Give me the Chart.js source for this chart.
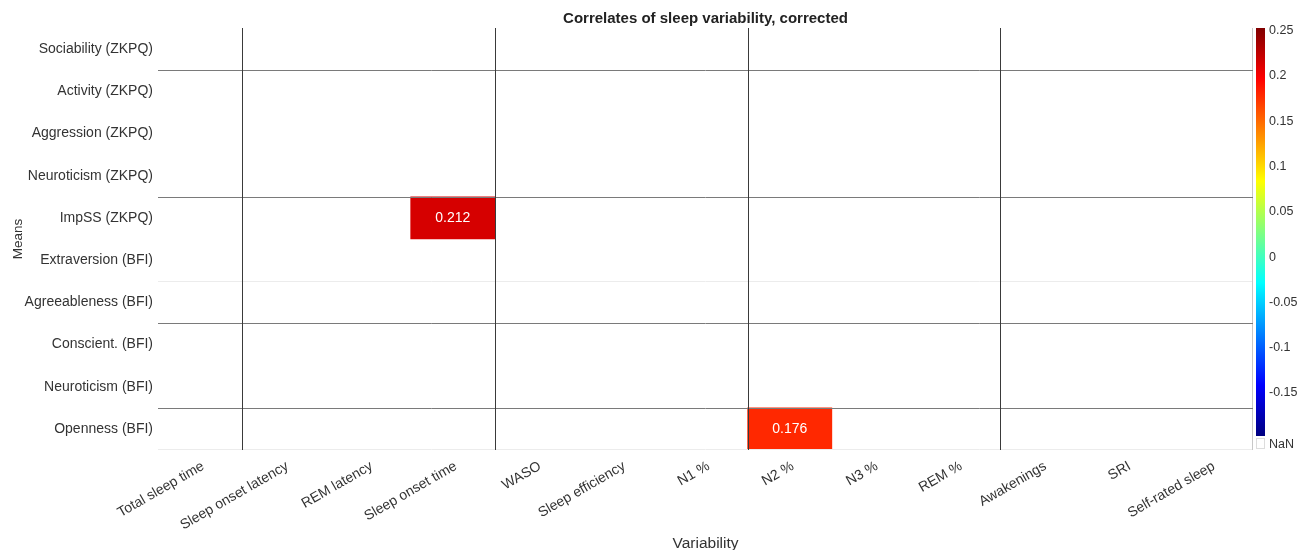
<!DOCTYPE html>
<html>
<head>
<meta charset="utf-8">
<script src="https://cdn.jsdelivr.net/npm/chart.js@4.4.1/dist/chart.umd.min.js"></script>
<style>
  html, body { margin: 0; padding: 0; background: #fff; }
  #wrap { width: 1311px; height: 550px; }
</style>
</head>
<body>
<div id="wrap"><canvas id="heat"></canvas></div>
<script>
    // categories
    const colLabels = ['Total sleep time', 'Sleep onset latency', 'REM latency', 'Sleep onset time',
        'WASO', 'Sleep efficiency', 'N1 %', 'N2 %', 'N3 %', 'REM %', 'Awakenings', 'SRI', 'Self-rated sleep'];
    const rowLabels = ['Sociability (ZKPQ)', 'Activity (ZKPQ)', 'Aggression (ZKPQ)', 'Neuroticism (ZKPQ)',
        'ImpSS (ZKPQ)', 'Extraversion (BFI)', 'Agreeableness (BFI)', 'Conscient. (BFI)',
        'Neuroticism (BFI)', 'Openness (BFI)'];

    // significant corrected correlations (null = NaN / not shown)
    const N = null;
    const corrValues = [
        [N, N, N, N, N, N, N, N, N, N, N, N, N],
        [N, N, N, N, N, N, N, N, N, N, N, N, N],
        [N, N, N, N, N, N, N, N, N, N, N, N, N],
        [N, N, N, N, N, N, N, N, N, N, N, N, N],
        [N, N, N, 0.212, N, N, N, N, N, N, N, N, N],
        [N, N, N, N, N, N, N, N, N, N, N, N, N],
        [N, N, N, N, N, N, N, N, N, N, N, N, N],
        [N, N, N, N, N, N, N, N, N, N, N, N, N],
        [N, N, N, N, N, N, N, N, N, N, N, N, N],
        [N, N, N, N, N, N, N, 0.176, N, N, N, N, N]
    ];

    // colour bar
    const cbMin = -0.2;
    const cbMax = 0.25;
    const cbTicks = [0.25, 0.2, 0.15, 0.1, 0.05, 0, -0.05, -0.1, -0.15];

    // group separators (after these indices)
    const colBreaks = [1, 4, 7, 10];
    const rowBreaks = [1, 4, 7, 9];

    function jet(v) {
        let t = (v - cbMin) / (cbMax - cbMin);
        t = Math.max(0, Math.min(1, t));
        const c = x => Math.round(255 * Math.max(0, Math.min(1, x)));
        const r = c(1.5 - Math.abs(4 * t - 3));
        const g = c(1.5 - Math.abs(4 * t - 2));
        const b = c(1.5 - Math.abs(4 * t - 1));
        return `rgb(${r},${g},${b})`;
    }

    const FONT = '"Liberation Sans", Arial, sans-serif';

    const datasets = rowLabels.map((name, r) => ({
        label: name,
        data: corrValues[r].map(v => v == null ? null : [r - 0.5, r + 0.5]),
        backgroundColor: corrValues[r].map(v => v == null ? 'rgba(0,0,0,0)' : jet(v)),
        borderWidth: 0,
        grouped: false,
        barPercentage: 1,
        categoryPercentage: 1,
        yAxisID: 'y'
    }));

    const overlay = {
        id: 'overlay',
        afterDatasetsDraw(chart) {
            const ctx = chart.ctx;
            const xs = chart.scales.x;
            const ys = chart.scales.y;
            const area = chart.chartArea;
            ctx.save();
            // cell values
            ctx.fillStyle = '#ffffff';
            ctx.font = '14px ' + FONT;
            ctx.textAlign = 'center';
            ctx.textBaseline = 'middle';
            chart.data.datasets.forEach((ds, r) => {
                const meta = chart.getDatasetMeta(r);
                meta.data.forEach((bar, c) => {
                    const v = corrValues[r][c];
                    if (v == null) return;
                    ctx.fillText(v.toFixed(3), bar.x, (bar.y + bar.base) / 2);
                });
            });
            // faint frame lines
            ctx.lineWidth = 1;
            ctx.strokeStyle = '#ececec';
            ctx.beginPath();
            ctx.moveTo(area.left, Math.round(area.bottom) - 0.5);
            ctx.lineTo(area.right, Math.round(area.bottom) - 0.5);
            const yf = Math.round(ys.getPixelForValue(5.5)) + 0.5;
            ctx.moveTo(area.left, yf);
            ctx.lineTo(area.right, yf);
            ctx.stroke();
            ctx.strokeStyle = '#c8c8c8';
            ctx.beginPath();
            ctx.moveTo(Math.round(area.right) - 0.5, area.top);
            ctx.lineTo(Math.round(area.right) - 0.5, area.bottom);
            ctx.stroke();
            // horizontal group lines
            ctx.strokeStyle = '#7a7a7a';
            ctx.beginPath();
            rowBreaks.forEach(b => {
                const y = Math.round(ys.getPixelForValue(b - 0.5)) + 0.5;
                ctx.moveTo(area.left, y);
                ctx.lineTo(area.right, y);
            });
            ctx.stroke();
            // vertical group lines
            ctx.strokeStyle = '#3a3a3a';
            ctx.beginPath();
            colBreaks.forEach(b => {
                const x = Math.round((xs.getPixelForValue(b - 1) + xs.getPixelForValue(b)) / 2) + 0.5;
                ctx.moveTo(x, area.top);
                ctx.lineTo(x, area.bottom);
            });
            ctx.stroke();

            // colour bar
            const cb = chart.scales.cb;
            const x0 = Math.round(area.right) + 3;
            const w = 9;
            const top = area.top;
            const bot = Math.round(cb.getPixelForValue(cbMin)) - 2;
            const grad = ctx.createLinearGradient(0, bot, 0, top);
            for (let i = 0; i <= 40; i++) {
                grad.addColorStop(i / 40, jet(cbMin + (cbMax - cbMin) * i / 40));
            }
            ctx.fillStyle = grad;
            ctx.fillRect(x0, top, w, bot - top);
            // NaN swatch
            ctx.strokeStyle = '#dddddd';
            ctx.strokeRect(x0 + 0.5, bot + 2.5, w - 1, area.bottom - bot - 4);
            ctx.fillStyle = '#333333';
            ctx.font = '12.5px ' + FONT;
            ctx.textAlign = 'left';
            ctx.textBaseline = 'middle';
            ctx.fillText('NaN', cb.left + 16, area.bottom - 5);
            ctx.restore();
        }
    };

    new Chart(document.getElementById('heat').getContext('2d'), {
        type: 'bar',
        data: { labels: colLabels, datasets: datasets },
        options: {
            responsive: true,
            maintainAspectRatio: false,
            animation: false,
            events: [],
            layout: { padding: { left: 10, right: 0, top: 0, bottom: 0 } },
            plugins: {
                legend: { display: false },
                tooltip: { enabled: false },
                title: {
                    display: true,
                    fullSize: false,
                    text: 'Correlates of sleep variability, corrected',
                    color: '#222',
                    font: { family: FONT, size: 15, weight: 'bold' },
                    padding: { top: 10, bottom: 0 }
                }
            },
            scales: {
                x: {
                    type: 'category',
                    offset: true,
                    grid: { display: false, drawTicks: false },
                    border: { display: false },
                    ticks: {
                        color: '#333',
                        font: { family: FONT, size: 14 },
                        minRotation: 30,
                        maxRotation: 30,
                        padding: 8,
                        labelOffset: 3,
                        autoSkip: false
                    },
                    title: {
                        display: true,
                        text: 'Variability',
                        color: '#333',
                        font: { family: FONT, size: 15.5 },
                        padding: { top: 0, bottom: -3 }
                    },
                    afterFit(scale) { scale.height = 100; }
                },
                y: {
                    type: 'linear',
                    reverse: true,
                    min: -0.5,
                    max: rowLabels.length - 0.5,
                    grid: { display: false, drawTicks: false },
                    border: { display: false },
                    afterBuildTicks(scale) {
                        scale.ticks = rowLabels.map((_, i) => ({ value: i }));
                    },
                    ticks: {
                        color: '#333',
                        font: { family: FONT, size: 14 },
                        padding: 5,
                        callback: v => rowLabels[v]
                    },
                    title: {
                        display: true,
                        text: 'Means',
                        color: '#333',
                        font: { family: FONT, size: 13.5 },
                        padding: { top: 0, bottom: 0 }
                    },
                    afterFit(scale) { scale.width = 148; }
                },
                cb: {
                    type: 'linear',
                    position: 'right',
                    min: -0.2129,
                    max: 0.2528,
                    grid: { display: false, drawTicks: false },
                    border: { display: false },
                    afterBuildTicks(scale) {
                        scale.ticks = cbTicks.map(v => ({ value: v }));
                    },
                    ticks: {
                        color: '#333',
                        font: { family: FONT, size: 12.5 },
                        padding: 16,
                        callback: v => String(Math.round(v * 100) / 100)
                    },
                    afterFit(scale) { scale.width = 58; }
                }
            }
        },
        plugins: [overlay]
    });
</script>
</body>
</html>
